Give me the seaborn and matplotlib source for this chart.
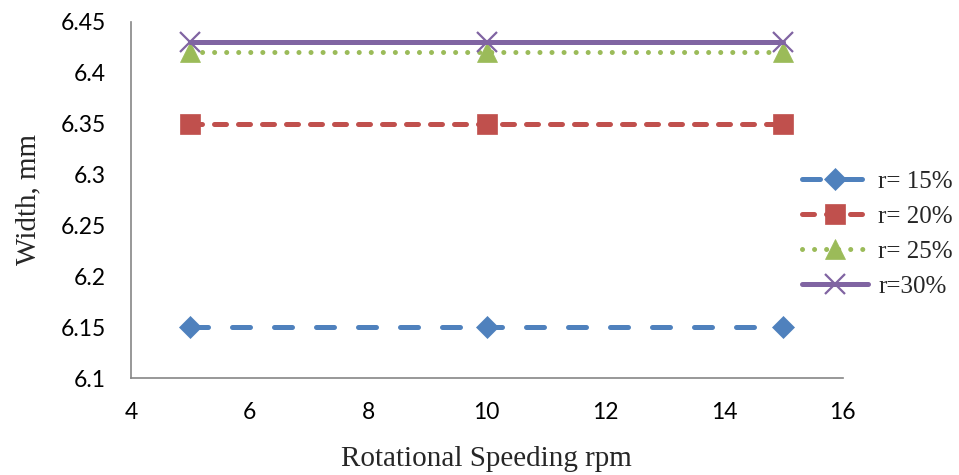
import matplotlib
matplotlib.use("Agg")
import matplotlib.pyplot as plt
import seaborn as sns
import pandas as pd

speed = [5, 10, 15]
series_names = ["r= 15%", "r= 20%", "r= 25%", "r=30%"]
w15 = [6.15, 6.15, 6.15]
w20 = [6.35, 6.35, 6.35]
w25 = [6.42, 6.42, 6.42]
w30 = [6.43, 6.43, 6.43]
x_ticks = [4, 6, 8, 10, 12, 14, 16]
y_ticks = [6.1, 6.15, 6.2, 6.25, 6.3, 6.35, 6.4, 6.45]
y_tick_labels = ["6.1", "6.15", "6.2", "6.25", "6.3", "6.35", "6.4", "6.45"]

sns.set_theme(style="white")

rows = []
for name, vals in zip(series_names, [w15, w20, w25, w30]):
    for s, v in zip(speed, vals):
        rows.append({"speed": s, "width": v, "series": name})
df = pd.DataFrame(rows)

colors = ["#4F81BD", "#C0504D", "#9BBB59", "#8064A2"]
markers = ["D", "s", "^", "x"]
msizes = [11, 14, 15, 14]
dashes = [(3.6, 4.8), (2.4, 2.4), (0.01, 2.4), None]

fig = plt.figure(figsize=(9.59, 4.75), dpi=100)
ax = fig.add_axes([0.1366, 0.204, 0.742, 0.750])

for name, c, m, ms, d in zip(series_names, colors, markers, msizes, dashes):
    sub = df[df["series"] == name]
    sns.lineplot(data=sub, x="speed", y="width", ax=ax, color=c, marker=m,
                 markersize=ms, linewidth=3.6, label=name,
                 markeredgecolor=c, markeredgewidth=1.6 if m == "x" else 0.5)
    line = ax.get_lines()[-1]
    if d is not None:
        line.set_dashes(d)
    line.set_dash_capstyle("round")
    line.set_solid_capstyle("round")

ax.set_xlim(4, 16)
ax.set_ylim(6.1, 6.45)
ax.set_xticks(x_ticks)
ax.set_yticks(y_ticks)
ax.set_yticklabels(y_tick_labels)
ax.tick_params(axis="both", length=0, labelsize=16.5, colors="black")
ax.tick_params(axis="x", pad=17)
ax.tick_params(axis="y", pad=18)
for lab in ax.get_xticklabels() + ax.get_yticklabels():
    lab.set_fontfamily("Lato")

for sp in ["top", "right"]:
    ax.spines[sp].set_visible(False)
for sp in ["left", "bottom"]:
    ax.spines[sp].set_color("#868686")
    ax.spines[sp].set_linewidth(1.2)

ax.set_xlabel("Rotational Speeding rpm", fontsize=21, fontfamily="Liberation Serif", labelpad=17)
ax.set_ylabel("Width, mm", fontsize=21, fontfamily="Liberation Serif", labelpad=14)

leg = ax.legend(loc="upper left", bbox_to_anchor=(0.836, 0.642), bbox_transform=fig.transFigure,
                frameon=False, borderaxespad=0, borderpad=0,
                prop={"family": "Liberation Serif", "size": 18},
                handlelength=2.65, handletextpad=0.4, labelspacing=0.5)

fig.savefig("out.png", dpi=100)
